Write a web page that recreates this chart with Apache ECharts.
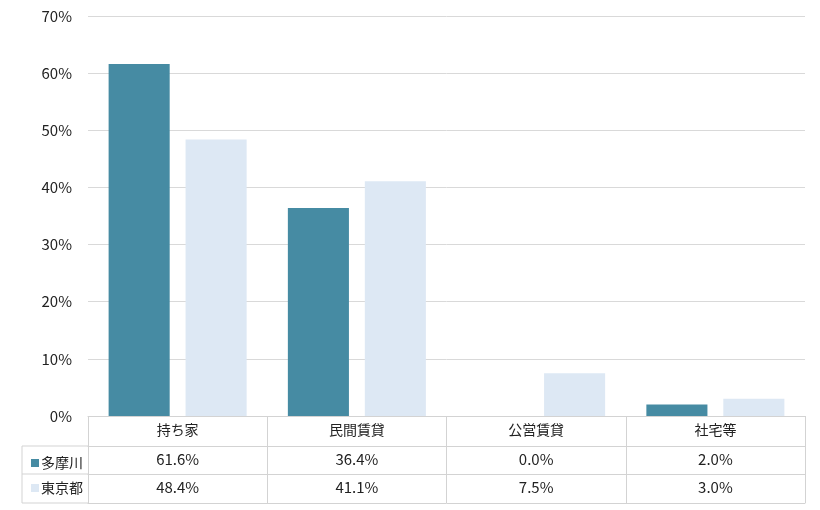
<!DOCTYPE html>
<html>
<head>
<meta charset="utf-8">
<script src="https://cdn.jsdelivr.net/npm/echarts@6/dist/echarts.min.js"></script>
<style>
  html, body { margin: 0; padding: 0; background: #fff; }
  #chart { width: 820px; height: 510px; }
</style>
</head>
<body>
<div id="chart"></div>
<script>
// 住宅の所有関係（多摩川 vs 東京都）
var categories = ['持ち家', '民間賃貸', '公営賃貸', '社宅等'];
var seriesNames = ['多摩川', '東京都'];
var tamagawa = [61.6, 36.4, 0.0, 2.0];
var tokyo = [48.4, 41.1, 7.5, 3.0];
var yTicks = { min: 0, max: 70, interval: 10 };

var colors = ['#468ba3', '#dde8f4'];
var lineColor = '#d3d3d3';
var font = '"Noto Sans CJK JP", "Noto Sans", sans-serif';

function pct(v) { return v.toFixed(1) + '%'; }

var myChart = echarts.init(document.getElementById('chart'));

// 表の行はオフセットしたカテゴリ軸で描く
function rowAxis(values, offset) {
    return {
        type: 'category',
        data: values,
        position: 'bottom',
        offset: offset,
        axisLine: { show: true, lineStyle: { color: lineColor, width: 1 } },
        axisTick: { show: false },
        axisLabel: { show: values.length > 0, margin: 6, color: '#222', fontSize: 15, fontFamily: font, interval: 0 },
        splitLine: { show: false }
    };
}

var option = {
    animation: false,
    color: colors,
    textStyle: { fontFamily: font },
    grid: { left: 88, right: 15, top: 16, bottom: 94 },
    legend: {
        data: seriesNames,
        orient: 'vertical',
        left: 26,
        top: 451,
        icon: 'rect',
        itemWidth: 8,
        itemHeight: 8,
        itemGap: 11,
        textStyle: { fontSize: 14, color: '#222', fontFamily: font, padding: [0, 0, 0, -3] },
        selectedMode: false
    },
    xAxis: [
        {
            type: 'category',
            data: categories,
            position: 'bottom',
            axisLine: { show: true, lineStyle: { color: lineColor, width: 1 } },
            axisTick: { show: true, length: 87, interval: 0, lineStyle: { color: lineColor } },
            axisLabel: { margin: 7, color: '#222', fontSize: 14, fontFamily: font, interval: 0 }
        },
        rowAxis(tamagawa.map(pct), 30),
        rowAxis(tokyo.map(pct), 58),
        rowAxis(categories.map(function () { return ''; }), 87)
    ],
    yAxis: {
        type: 'value',
        min: yTicks.min,
        max: yTicks.max,
        interval: yTicks.interval,
        axisLine: { show: false },
        axisTick: { show: false },
        axisLabel: { formatter: '{value}%', margin: 16, color: '#222', fontSize: 15, fontFamily: font },
        splitLine: { lineStyle: { color: '#d9d9d9', width: 1 } }
    },
    graphic: [
        { type: 'line', shape: { x1: 22, y1: 446, x2: 88, y2: 446 }, style: { stroke: lineColor, lineWidth: 1 } },
        { type: 'line', shape: { x1: 22, y1: 474, x2: 88, y2: 474 }, style: { stroke: lineColor, lineWidth: 1 } },
        { type: 'line', shape: { x1: 22, y1: 503, x2: 88, y2: 503 }, style: { stroke: lineColor, lineWidth: 1 } },
        { type: 'line', shape: { x1: 22, y1: 446, x2: 22, y2: 503 }, style: { stroke: lineColor, lineWidth: 1 } }
    ],
    series: [
        { name: seriesNames[0], type: 'bar', data: tamagawa, barGap: '26%', barCategoryGap: '23%' },
        { name: seriesNames[1], type: 'bar', data: tokyo }
    ]
};

myChart.setOption(option);
</script>
</body>
</html>
